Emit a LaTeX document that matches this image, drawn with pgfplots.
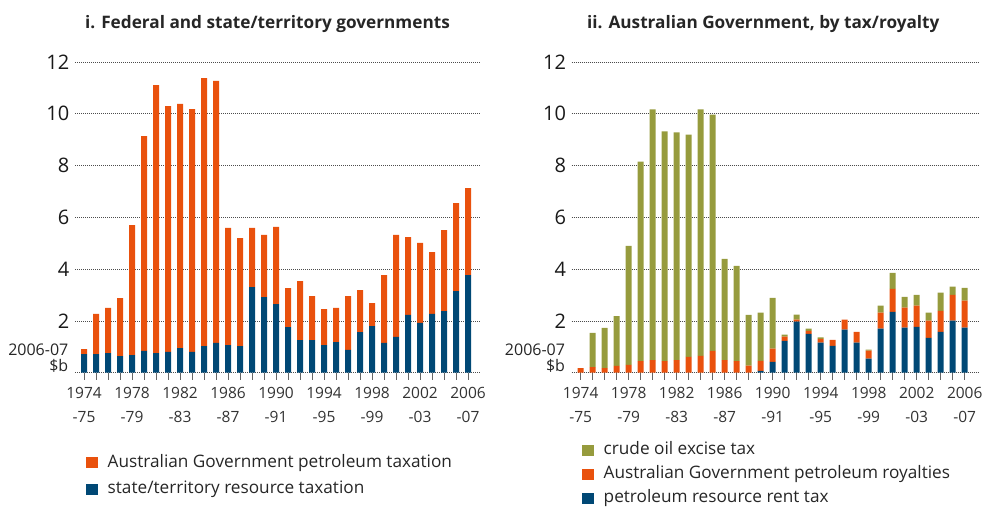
\documentclass[border=0pt]{standalone}
\usepackage{fontspec}
\setmainfont{Open Sans}
\usepackage{pgfplots}
\usepackage{pgfplotstable}
\pgfplotsset{compat=1.18}
\definecolor{cOr}{RGB}{233,81,13}
\definecolor{cBl}{RGB}{0,72,117}
\definecolor{cGr}{RGB}{150,155,61}

\pgfplotstableread{
year state fed
1974 0.72 0.19
1975 0.72 1.55
1976 0.76 1.74
1977 0.64 2.24
1978 0.68 5.02
1979 0.84 8.30
1980 0.76 10.35
1981 0.80 9.50
1982 0.95 9.43
1983 0.80 9.38
1984 1.03 10.35
1985 1.15 10.12
1986 1.07 4.52
1987 1.03 4.17
1988 3.31 2.28
1989 2.92 2.40
1990 2.65 2.98
1991 1.76 1.51
1992 1.26 2.28
1993 1.26 1.70
1994 1.07 1.39
1995 1.18 1.32
1996 0.88 2.08
1997 1.57 1.62
1998 1.80 0.89
1999 1.15 2.62
2000 1.38 3.94
2001 2.23 3.01
2002 1.92 3.09
2003 2.27 2.39
2004 2.38 3.13
2005 3.15 3.40
2006 3.77 3.36
}\leftdata

\pgfplotstableread{
year prrt roy excise
1974 0.00 0.18 0.00
1975 0.00 0.22 1.32
1976 0.00 0.18 1.55
1977 0.00 0.26 1.93
1978 0.00 0.30 4.60
1979 0.00 0.45 7.70
1980 0.00 0.49 9.68
1981 0.00 0.45 8.87
1982 0.00 0.49 8.79
1983 0.00 0.61 8.59
1984 0.00 0.65 9.52
1985 0.00 0.84 9.13
1986 0.00 0.49 3.91
1987 0.00 0.45 3.68
1988 0.00 0.27 1.96
1989 0.07 0.39 1.86
1990 0.42 0.51 1.96
1991 1.23 0.16 0.08
1992 1.97 0.08 0.19
1993 1.50 0.12 0.08
1994 1.16 0.15 0.05
1995 1.04 0.23 0.00
1996 1.66 0.39 0.00
1997 1.16 0.42 0.00
1998 0.54 0.31 0.04
1999 1.70 0.62 0.27
2000 2.35 0.89 0.62
2001 1.74 0.77 0.42
2002 1.77 0.82 0.42
2003 1.35 0.66 0.31
2004 1.58 0.81 0.70
2005 2.01 1.00 0.31
2006 1.74 1.04 0.50
}\rightdata

\pgfplotsset{
  sqlegend/.style={legend image code/.code={\fill[##1] (0pt,-5.5pt) rectangle (11.5pt,5.5pt);}},
  common/.style={
    scale only axis,
    height=310.7pt,
    ymin=0, ymax=12,
    enlargelimits=false,
    ybar stacked,
    bar width=6pt,
    clip=false,
    axis line style={draw=none},
    ymajorgrids,
    major grid style={line width=0.8pt, dash pattern=on 1pt off 1pt, black!70},
    ytick={0,2,...,12},
    yticklabels={,2,4,6,8,10,12},
    ytick style={draw=none},
    yticklabel style={font=\fontsize{20}{20}\selectfont, inner sep=0pt, xshift=1.5pt, text=black!90},
    xtick={1974,1978,...,2006},
    minor xtick={1974,...,2006},
    xticklabels={{1974\\-75},{1978\\-79},{1982\\-83},{1986\\-87},{1990\\-91},{1994\\-95},{1998\\-99},{2002\\-03},{2006\\-07}},
    xticklabel style={font=\fontsize{15.5}{24}\selectfont, align=center, inner sep=0pt, yshift=-7pt, text=black!80},
    xtick pos=bottom, ytick pos=left,
    tick align=outside,
    major tick length=7pt, minor tick length=7pt,
    xtick style={black!60, line width=0.9pt},
    minor tick style={black!60, line width=0.9pt},
    /pgf/number format/assume math mode=true,
    legend cell align=left,
    reverse legend,
    legend style={draw=none, fill=none, inner sep=0pt, anchor=north west,
      font=\fontsize{17.2}{17.2}\selectfont, text=black!85,
      nodes={inner sep=0pt, text height=12pt, text depth=3.5pt},
      /tikz/every odd column/.append style={column sep=10pt}},
  }
}

\begin{document}
\begin{tikzpicture}
\path[use as bounding box] (0pt,-506pt) rectangle (987pt,0pt);

\begin{axis}[common,
  at={(75pt,-372.7pt)}, anchor=south west,
  width=406pt, xmin=1973.25, xmax=2007.08,
  legend style={at={(axis description cs:0.0271,-0.265)}, row sep=11.2pt},
]
\addplot[fill=cBl, draw=none, sqlegend] table[x=year, y=state] {\leftdata};
\addlegendentry{state/territory resource taxation}
\addplot[fill=cOr, draw=none, sqlegend] table[x=year, y=fed] {\leftdata};
\addlegendentry{Australian Government petroleum taxation}
\node[anchor=base west, font=\fontsize{17.2}{17.2}\selectfont\bfseries, text=black!85, inner sep=0pt] at (axis description cs:0.0246,1.107) {i. Federal and state/territory governments};
\node[anchor=south east, align=right, inner sep=0pt, font=\fontsize{16}{16}\selectfont, text=black!85, xshift=-6.5pt] at (axis description cs:0,0) {2006-07\\\$b};
\end{axis}

\begin{axis}[common,
  at={(571.7pt,-372.7pt)}, anchor=south west,
  width=407.3pt, xmin=1973.25, xmax=2007.19,
  legend style={at={(axis description cs:0.0253,-0.224)}, row sep=8.6pt},
]
\addplot[fill=cBl, draw=none, sqlegend] table[x=year, y=prrt] {\rightdata};
\addlegendentry{petroleum resource rent tax}
\addplot[fill=cOr, draw=none, sqlegend] table[x=year, y=roy] {\rightdata};
\addlegendentry{Australian Government petroleum royalties}
\addplot[fill=cGr, draw=none, sqlegend] table[x=year, y=excise] {\rightdata};
\addlegendentry{crude oil excise tax}
\node[anchor=base west, font=\fontsize{17.2}{17.2}\selectfont\bfseries, text=black!85, inner sep=0pt] at (axis description cs:0.0376,1.107) {ii. Australian Government, by tax/royalty};
\node[anchor=south east, align=right, inner sep=0pt, font=\fontsize{16}{16}\selectfont, text=black!85, xshift=-6.5pt] at (axis description cs:0,0) {2006-07\\\$b};
\end{axis}
\end{tikzpicture}
\end{document}
